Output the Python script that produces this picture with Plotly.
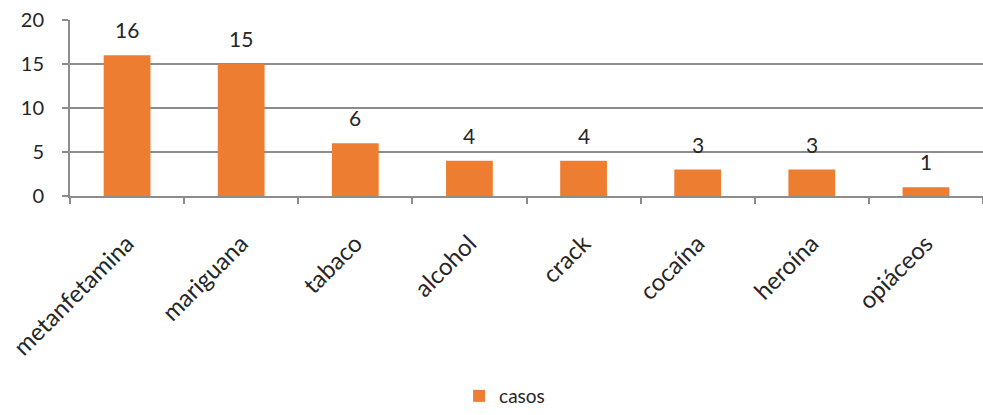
import plotly.graph_objects as go

categorias = ["metanfetamina", "mariguana", "tabaco", "alcohol", "crack", "cocaína", "heroína", "opiáceos"]
casos = [16, 15, 6, 4, 4, 3, 3, 1]
y_ticks = [0, 5, 10, 15, 20]

naranja = "#ED7D31"
gris = "#8C8C8C"
texto = "#262626"
fuente = "Lato, 'Open Sans', sans-serif"

fig = go.Figure(
    go.Bar(
        x=categorias,
        y=casos,
        name="casos",
        marker=dict(color=naranja, line=dict(width=0)),
        width=0.41,
        cliponaxis=False,
    )
)

# value labels above each bar
for cat, val in zip(categorias, casos):
    fig.add_annotation(
        x=cat,
        y=val,
        text=str(val),
        showarrow=False,
        yanchor="bottom",
        yshift=11,
        font=dict(size=21, color=texto, family=fuente),
    )

fig.update_layout(
    width=983,
    height=415,
    margin=dict(l=70, r=0, t=20, b=218),
    paper_bgcolor="white",
    plot_bgcolor="white",
    font=dict(family=fuente, color=texto),
    showlegend=True,
    legend=dict(
        orientation="h",
        x=0.476,
        xanchor="center",
        y=-1.135,
        yanchor="middle",
        font=dict(size=19, color=texto),
        itemwidth=30,
    ),
)

fig.update_xaxes(
    type="category",
    tickson="boundaries",
    ticks="outside",
    ticklen=6,
    tickwidth=1.5,
    tickcolor=gris,
    showline=True,
    linecolor=gris,
    linewidth=2,
    showgrid=False,
    tickangle=-45,
    tickfont=dict(size=24, color=texto),
    ticklabelstandoff=22,
)

fig.update_yaxes(
    range=[0, 20],
    tickvals=y_ticks,
    ticks="outside",
    ticklen=6,
    tickwidth=1.5,
    tickcolor=gris,
    showline=True,
    linecolor=gris,
    linewidth=2,
    showgrid=True,
    gridcolor=gris,
    gridwidth=1.5,
    zeroline=False,
    tickfont=dict(size=20, color=texto),
    ticklabelstandoff=14,
)

fig.write_html("out.html")
